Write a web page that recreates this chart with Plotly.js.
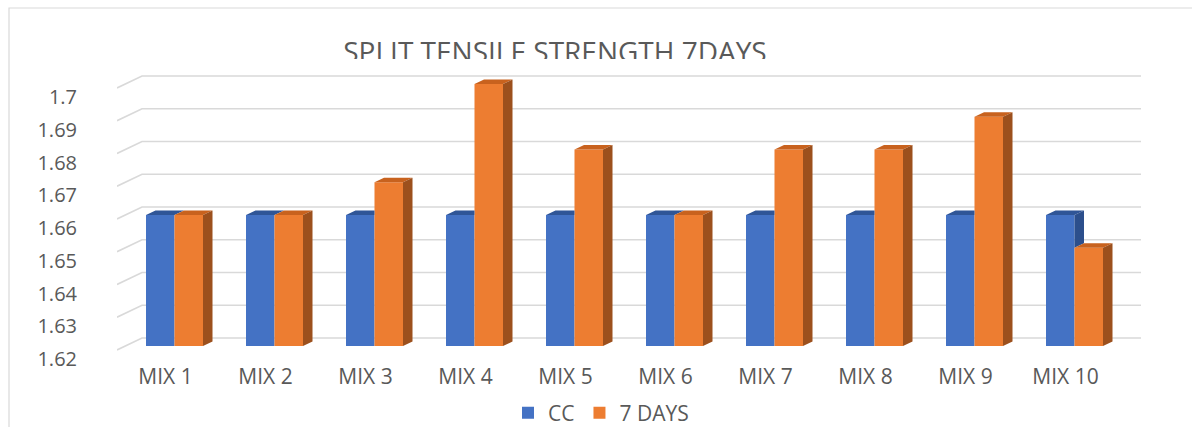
<!DOCTYPE html>
<html>
<head>
<meta charset="utf-8">
<script src="https://cdn.plot.ly/plotly-3.0.1.min.js"></script>
<style>
  html, body { margin: 0; padding: 0; background: #fff; }
  #wrap { position: relative; width: 1192px; height: 427px; overflow: hidden; }
  #chart { width: 1192px; height: 427px; }
  .cut { position: absolute; background: #fff; pointer-events: none; }
</style>
</head>
<body>
<div id="wrap">
  <div id="chart"></div>
  <div class="cut" id="titleCut" style="left:320px; top:59px; width:470px; height:12px;"></div>
  <div class="cut" id="legendCut" style="left:500px; top:422px; width:220px; height:5px;"></div>
</div>
<script>
// ---- data ----
const categories = ['MIX 1', 'MIX 2', 'MIX 3', 'MIX 4', 'MIX 5', 'MIX 6', 'MIX 7', 'MIX 8', 'MIX 9', 'MIX 10'];
const ccValues = [1.66, 1.66, 1.66, 1.66, 1.66, 1.66, 1.66, 1.66, 1.66, 1.66];
const days7Values = [1.66, 1.66, 1.67, 1.70, 1.68, 1.66, 1.68, 1.68, 1.69, 1.65];
const yTickValues = [1.62, 1.63, 1.64, 1.65, 1.66, 1.67, 1.68, 1.69, 1.70];
const yTickLabels = ['1.62', '1.63', '1.64', '1.65', '1.66', '1.67', '1.68', '1.69', '1.7'];
const seriesNames = ['CC', '7 DAYS'];

// ---- layout geometry (pixels) ----
const W = 1192, H = 427;
const L = 117, R = 1141, T = 70, B = 352;
const BASE = 1.62;          // value at the floor of the chart
const basePx = 346;         // pixel row of the floor on the front plane
const pxPerUnitY = 3275;    // pixels per 1.0 on the value axis
const pxPerCat = 100;       // pixels per category
const firstCenterPx = 174.5;
const yRange = [BASE - (B - basePx) / pxPerUnitY, BASE + (basePx - T) / pxPerUnitY];
const xRange = [-(firstCenterPx - L) / pxPerCat, (R - firstCenterPx) / pxPerCat];

const barW = 0.285;               // front face width of one bar (category units)
const dx = 9.5 / pxPerCat;        // depth offset, horizontal
const dy = 4.5 / pxPerUnitY;      // depth offset, vertical
const wallFront = xRange[0];
const wallBack = -(firstCenterPx - 142) / pxPerCat;
const wallDrop = 4 / pxPerUnitY, wallRise = 8 / pxPerUnitY;

const colors = {
  ccFront: '#4472C4', ccTop: '#2F5597', ccSide: '#2C4F8C',
  oFront: '#ED7D31', oTop: '#C8621E', oSide: '#9C501D',
  grid: '#D9D9D9', text: '#595959'
};

const idx = categories.map((_, i) => i);

// ---- 3D faces built from the data ----
function poly(acc, pts) {
  pts.forEach(p => { acc.x.push(p[0]); acc.y.push(p[1]); });
  acc.x.push(pts[0][0]); acc.y.push(pts[0][1]);
  acc.x.push(null); acc.y.push(null);
}
const ccTop = {x: [], y: []}, ccSide = {x: [], y: []}, oTop = {x: [], y: []}, oSide = {x: [], y: []};
idx.forEach(i => {
  const c = i, vc = ccValues[i], vo = days7Values[i];
  const l = c - barW, r = c + barW;
  if (vo >= vc + dy) {
    poly(ccTop, [[l, vc], [c, vc], [c, vc + dy], [l + dx, vc + dy]]);
  } else {
    poly(ccTop, [[l, vc], [c, vc], [c + dx, vc + dy], [l + dx, vc + dy]]);
  }
  if (vc > vo) {
    poly(ccSide, [[c, vo], [c, vc], [c + dx, vc + dy], [c + dx, vo + dy]]);
  }
  poly(oTop, [[c, vo], [r, vo], [r + dx, vo + dy], [c + dx, vo + dy]]);
  poly(oSide, [[r, BASE], [r, vo], [r + dx, vo + dy], [r + dx, BASE + dy]]);
});

function face(f, color) {
  return {
    type: 'scatter', mode: 'lines', x: f.x, y: f.y, fill: 'toself',
    fillcolor: color, line: {width: 0, color: color}, showlegend: false,
    hoverinfo: 'skip'
  };
}

const traces = [
  {
    type: 'bar', name: seriesNames[0], x: idx, y: ccValues.map(v => v - BASE), base: BASE,
    width: barW, offset: -barW, marker: {color: colors.ccFront, line: {width: 0}},
    customdata: ccValues, hovertemplate: '%{customdata}<extra>CC</extra>'
  },
  {
    type: 'bar', name: seriesNames[1], x: idx, y: days7Values.map(v => v - BASE), base: BASE,
    width: barW, offset: 0, marker: {color: colors.oFront, line: {width: 0}},
    customdata: days7Values, hovertemplate: '%{customdata}<extra>7 DAYS</extra>'
  },
  face(ccTop, colors.ccTop),
  face(ccSide, colors.ccSide),
  face(oTop, colors.oTop),
  face(oSide, colors.oSide)
];

// gridlines: slanted left wall + back wall
const shapes = yTickValues.map(v => ({
  type: 'path', xref: 'x', yref: 'y', layer: 'below',
  path: `M ${wallFront},${v - wallDrop} L ${wallBack},${v + wallRise} L ${xRange[1]},${v + wallRise}`,
  line: {color: colors.grid, width: 1.6}
}));
// outer chart frame
const pxX = p => (p - L) / (R - L);
const pxY = p => (B - p) / (B - T);
shapes.push({
  type: 'rect', xref: 'paper', yref: 'paper', layer: 'below',
  x0: pxX(9), x1: pxX(W + 10), y0: pxY(H + 10), y1: pxY(8),
  line: {color: colors.grid, width: 1.2}, fillcolor: 'rgba(0,0,0,0)'
});

const layout = {
  width: W, height: H,
  margin: {l: L, r: W - R, t: T, b: H - B, pad: 0, autoexpand: false},
  paper_bgcolor: '#ffffff', plot_bgcolor: 'rgba(0,0,0,0)',
  font: {family: 'Open Sans, sans-serif', color: colors.text, size: 20},
  title: {
    text: 'SPLIT TENSILE STRENGTH 7DAYS',
    font: {family: 'Open Sans, sans-serif', size: 28, color: colors.text},
    xref: 'container', yref: 'container', x: 555 / W, xanchor: 'center',
    y: 1 - 52 / H, yanchor: 'middle'
  },
  barmode: 'group',
  showlegend: true,
  legend: {
    orientation: 'h', x: pxX(508), xanchor: 'left', y: pxY(413), yanchor: 'middle',
    font: {size: 21, color: colors.text}, bgcolor: 'rgba(0,0,0,0)', traceorder: 'normal'
  },
  xaxis: {
    type: 'linear', range: xRange, fixedrange: true, automargin: false,
    tickvals: idx.map(i => i - 0.09), ticktext: categories,
    showgrid: false, zeroline: false, showline: false, ticks: '',
    ticklabelstandoff: 10, tickfont: {size: 21, color: colors.text}
  },
  yaxis: {
    type: 'linear', range: yRange, fixedrange: true, automargin: false,
    tickvals: yTickValues, ticktext: yTickLabels,
    showgrid: false, zeroline: false, showline: false, ticks: '',
    ticklabelshift: 13, ticklabelstandoff: 39, tickfont: {size: 20, color: colors.text}
  },
  shapes: shapes
};

Plotly.newPlot('chart', traces, layout, {displayModeBar: false, responsive: false});
</script>
</body>
</html>
